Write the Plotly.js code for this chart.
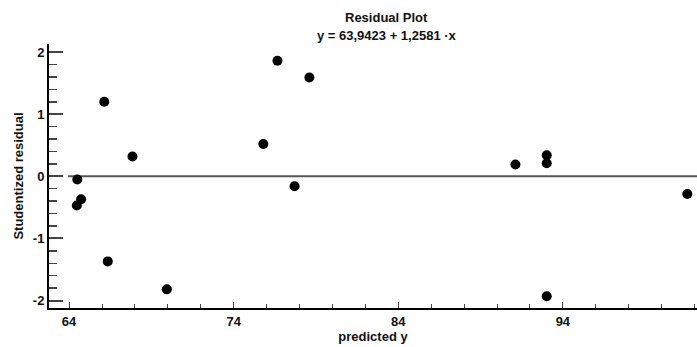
<!DOCTYPE html>
<html>
<head>
<meta charset="utf-8">
<script src="https://cdn.plot.ly/plotly-3.0.1.min.js"></script>
<style>html,body{margin:0;padding:0;background:#fff;}#chart{width:697px;height:347px;}</style>
</head>
<body>
<div id="chart"></div>
<script>
// Data
const predictedY = [64.47, 64.50, 64.73, 66.14, 66.35, 67.85, 69.94, 75.80, 76.66, 77.70, 78.60, 91.12, 93.02, 93.02, 93.02, 101.56];
const studResid = [-0.47, -0.05, -0.37, 1.20, -1.37, 0.32, -1.82, 0.52, 1.86, -0.16, 1.59, 0.19, 0.34, 0.21, -1.93, -0.285];
const intercept = 63.9423;
const slope = 1.2581;
const xTicks = [64, 74, 84, 94];
const yTicks = [-2, -1, 0, 1, 2];

const xRange = [62.78, 102.15];
const yRange = [-2.12, 2.13];

const txtColor = '#111111';
const fontFam = 'Liberation Sans, Arial, sans-serif';

const trace = {
  x: predictedY, y: studResid, type: 'scatter', mode: 'markers',
  marker: {color: '#000', size: 10, line: {width: 0}},
  hoverinfo: 'skip', showlegend: false, cliponaxis: false
};

const eqText = 'y = ' + intercept.toFixed(4).replace('.', ',') + ' + ' +
  slope.toFixed(4).replace('.', ',') + ' ·x';

const layout = {
  width: 697, height: 347,
  margin: {l: 49, r: 0, t: 44, b: 39},
  paper_bgcolor: '#fff', plot_bgcolor: '#fff',
  font: {family: fontFam, size: 12, color: txtColor, weight: 'bold'},
  showlegend: false,
  xaxis: {
    range: xRange, tickvals: xTicks, ticktext: xTicks.map(String),
    showgrid: false, zeroline: false,
    showline: true, linecolor: '#000', linewidth: 2, mirror: false,
    ticks: 'inside', ticklen: 6, tickwidth: 1, tickcolor: '#444',
    minor: {ticks: 'inside', ticklen: 4, tickwidth: 1, tickcolor: '#444', dtick: 2, tick0: 64, showgrid: false},
    tickfont: {family: fontFam, size: 13, color: txtColor, weight: 'bold'},
    title: {text: 'predicted y', font: {family: fontFam, size: 13, color: txtColor, weight: 'bold'}, standoff: 4},
    fixedrange: true
  },
  yaxis: {
    range: yRange, tickvals: yTicks, ticktext: yTicks.map(String),
    showgrid: false, zeroline: false,
    showline: true, linecolor: '#000', linewidth: 2,
    ticks: 'inside', ticklen: 14, tickwidth: 2, tickcolor: '#444',
    minor: {ticks: 'inside', ticklen: 8, tickwidth: 1.5, tickcolor: '#444', dtick: 0.2, tick0: 0, showgrid: false},
    tickfont: {family: fontFam, size: 13, color: txtColor, weight: 'bold'},
    title: {text: 'Studentized residual', font: {family: fontFam, size: 13, color: txtColor, weight: 'bold'}, standoff: 6},
    fixedrange: true
  },
  shapes: [{
    type: 'line', xref: 'x', yref: 'y', x0: intercept, x1: xRange[1], y0: 0, y1: 0,
    line: {color: '#555', width: 2}, layer: 'below'
  }],
  annotations: [
    {text: 'Residual Plot', xref: 'paper', yref: 'paper', x: 0.521, y: 1, yshift: 27, xanchor: 'center', yanchor: 'middle', showarrow: false,
     font: {family: fontFam, size: 13, color: txtColor, weight: 'bold'}},
    {text: eqText, xref: 'paper', yref: 'paper', x: 0.521, y: 1, yshift: 9, xanchor: 'center', yanchor: 'middle', showarrow: false,
     font: {family: fontFam, size: 13, color: txtColor, weight: 'bold'}}
  ]
};

Plotly.newPlot('chart', [trace], layout, {staticPlot: true, displayModeBar: false});
</script>
</body>
</html>
